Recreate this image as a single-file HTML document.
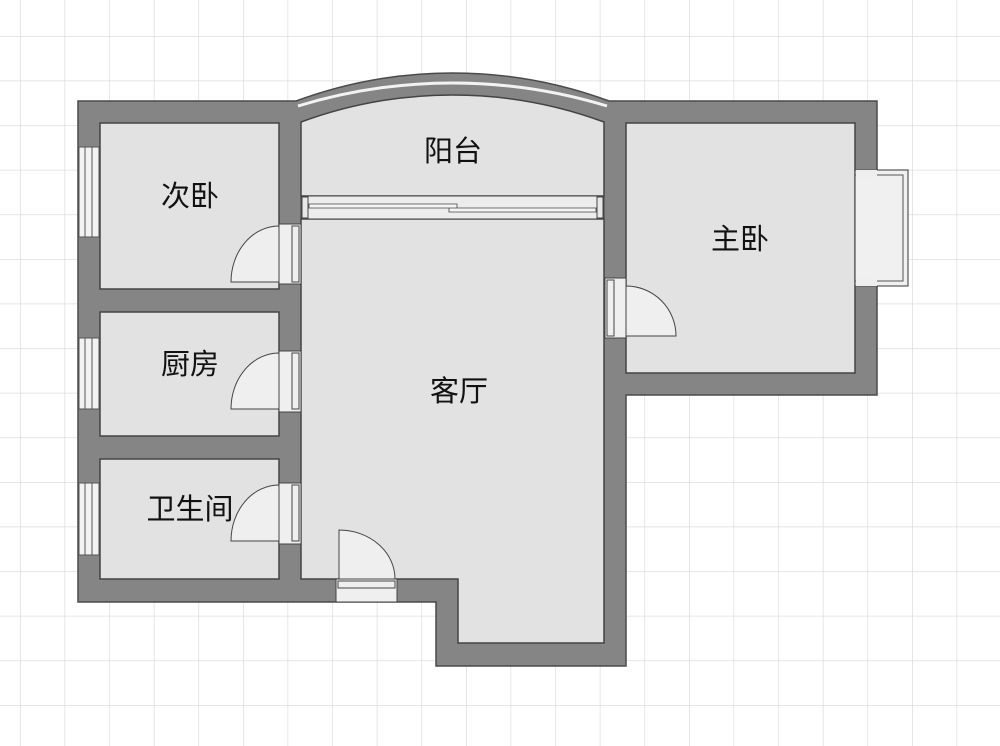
<!DOCTYPE html>
<html><head><meta charset="utf-8"><style>
html,body{margin:0;padding:0;background:#fff;}
svg{display:block}
text{font-family:"Liberation Sans","Noto Sans CJK SC",sans-serif;font-size:29px;fill:#111;text-anchor:middle;dominant-baseline:central}
</style></head><body>
<svg width="1000" height="746" viewBox="0 0 1000 746" xmlns="http://www.w3.org/2000/svg">
<defs>
<pattern id="g" x="20" y="36" width="44.6" height="44.6" patternUnits="userSpaceOnUse">
<path d="M0 0 H44.6 M0 0 V44.6" stroke="#d6d6d6" stroke-width="1.2" fill="none"/>
</pattern>
</defs>
<rect width="1000" height="746" fill="#fff"/>
<rect width="1000" height="746" fill="url(#g)"/>
<path d="M78 101 L296 101 A451 451 0 0 1 609 101 L877 101 L877 395 L626 395 L626 666 L436 666 L436 602 L78 602 Z" fill="#858585" stroke="#4a4a4a" stroke-width="1.5"/>
<path d="M298 106 A530 530 0 0 1 607 106" stroke="#f2f2f2" stroke-width="3" fill="none"/>
<g fill="#e2e2e2" stroke="#444" stroke-width="1.5">
<rect x="100" y="123" width="179" height="166"/>
<rect x="100" y="312" width="179" height="124"/>
<rect x="100" y="459" width="179" height="120"/>
<path d="M301 196 L301 122 A438 438 0 0 1 604 122 L604 196 Z"/>
<path d="M301 219 L604 219 L604 643 L458 643 L458 579 L301 579 Z"/>
<rect x="626" y="123" width="229" height="250"/>
</g>
<rect x="301" y="196" width="303" height="23" fill="#ececec" stroke="#444" stroke-width="1"/>
<rect x="302" y="197" width="6" height="21" fill="#e8e8e8" stroke="#444" stroke-width="1"/>
<rect x="597" y="197" width="6" height="21" fill="#e8e8e8" stroke="#444" stroke-width="1"/>
<path d="M309 204 H457 V208 H309 Z M449 208 H596 V212 H449 Z" fill="#f4f4f4" stroke="#444" stroke-width="0.8"/>
<g fill="#f2f2f2" stroke="#555" stroke-width="1">
<rect x="79" y="147" width="20" height="90"/><line x1="85" y1="147" x2="85" y2="237"/><line x1="92" y1="147" x2="92" y2="237"/>
<rect x="79" y="338" width="20" height="71"/><line x1="85" y1="338" x2="85" y2="409"/><line x1="92" y1="338" x2="92" y2="409"/>
<rect x="79" y="483" width="20" height="72"/><line x1="85" y1="483" x2="85" y2="555"/><line x1="92" y1="483" x2="92" y2="555"/>
</g>
<rect x="855" y="170" width="53" height="116" fill="#f0f0f0" stroke="#555" stroke-width="1.2"/>
<path d="M855 175 H903 V281 H855" fill="none" stroke="#555" stroke-width="1"/>
<rect x="856" y="170" width="21" height="7" fill="#eee" stroke="none"/>
<rect x="856" y="279" width="21" height="7" fill="#eee" stroke="none"/>
<g fill="#efefef" stroke="#444" stroke-width="1">
<rect x="279" y="224" width="22" height="60"/>
<rect x="292" y="226" width="7" height="56"/>
<path d="M279 282 L231 282 A48 56 0 0 1 279 226 Z" fill="#eeeeee"/>
<rect x="279" y="351" width="22" height="61"/>
<rect x="292" y="353" width="7" height="56"/>
<path d="M279 409 L231 409 A48 56 0 0 1 279 353 Z"/>
<rect x="279" y="483" width="22" height="61"/>
<rect x="292" y="485" width="7" height="56"/>
<path d="M279 541 L231 541 A48 56 0 0 1 279 485 Z"/>
<rect x="336" y="579" width="61" height="23"/>
<rect x="338" y="581" width="57" height="7"/>
<path d="M339 579 L339 530 A56 49 0 0 1 395 579 Z"/>
<rect x="605" y="278" width="21" height="60"/>
<rect x="607" y="280" width="7" height="56"/>
<path d="M626 336 L626 286 A50 50 0 0 1 676 336 Z"/>
</g>
<text x="190" y="197">次卧</text>
<text x="453" y="152">阳台</text>
<text x="740" y="240">主卧</text>
<text x="190" y="365">厨房</text>
<text x="459" y="392">客厅</text>
<text x="190" y="510">卫生间</text>
</svg>
</body></html>
